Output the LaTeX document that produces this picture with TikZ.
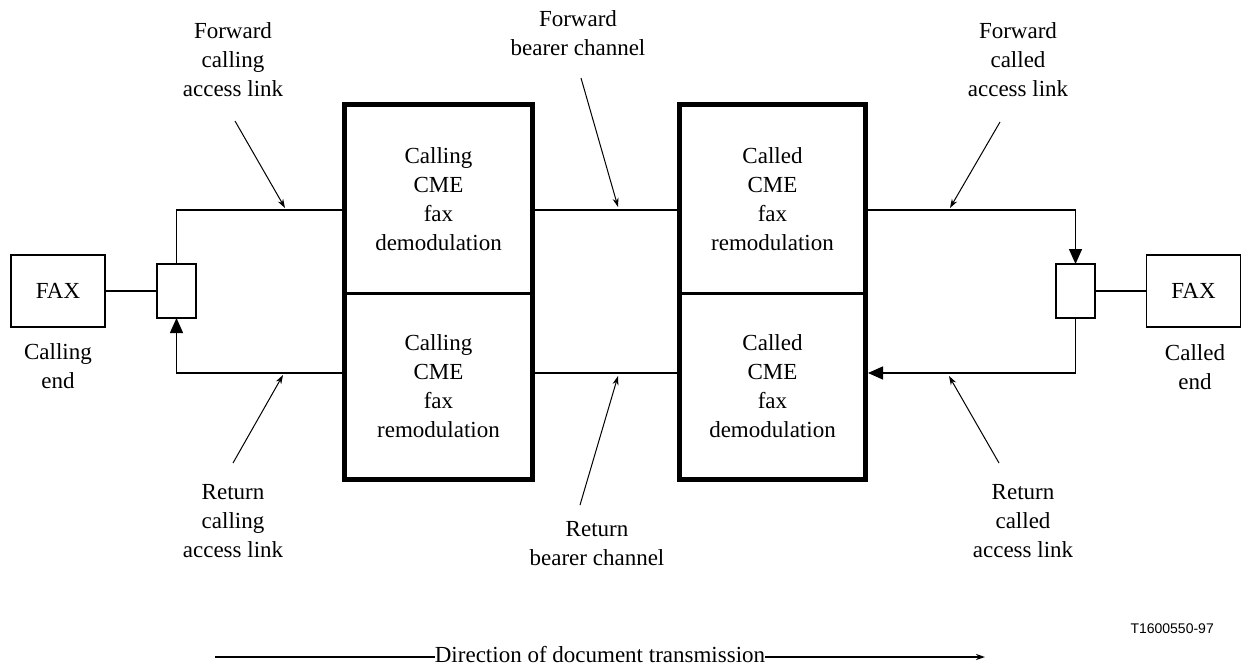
\documentclass[tikz,border=0pt]{standalone}
\usepackage{fontspec}
\setmainfont{Liberation Serif}
\newfontfamily\labelsans{Liberation Sans}
\usetikzlibrary{arrows.meta,calc}
\begin{document}
\begin{tikzpicture}[x=1pt,y=-1pt,
  txt/.style={align=center,inner sep=0pt,font=\fontsize{23}{29}\selectfont},
  faxbox/.style={draw,line width=1.5pt,minimum width=94pt,minimum height=72pt,inner sep=0pt,outer sep=0pt,font=\fontsize{23}{29}\selectfont},
  hybrid/.style={draw,line width=1.5pt,minimum width=39pt,minimum height=54pt,inner sep=0pt,outer sep=0pt},
  halfbox/.style={draw,line width=3pt,minimum width=188pt,inner sep=0pt,outer sep=0pt,align=center,font=\fontsize{23}{29}\selectfont},
  frame/.style={line width=5pt},
  link/.style={line width=1.4pt},
  tap/.style={line width=2.5pt},
  note/.style={line width=1pt,-{Stealth[length=9pt,width=6pt]}},
  bigtip/.style={-{Triangle[length=15pt,width=13pt]}}
]
\useasboundingbox (0,0) rectangle (1242,669);

% level coordinates
\coordinate (fwd) at (0,210);
\coordinate (ret) at (0,373);

% end equipment
\node[faxbox] (faxL) at (58,291) {FAX};
\node[hybrid] (sbL) at (176.5,291) {};
\node[faxbox] (faxR) at (1193.5,291) {FAX};
\node[hybrid] (sbR) at (1075.5,291) {};
\node[txt] (cend) at (58,366) {Calling\\end};
\node[txt] (dend) at (1195,367) {Called\\end};

% CME boxes
\node[halfbox,minimum height=188.5pt] (cU) at (438.5,198.75) {Calling\\CME\\fax\\demodulation};
\node[halfbox,minimum height=186.5pt] (cL) at (438.5,386.25) {Calling\\CME\\fax\\remodulation};
\draw[frame] (cU.north west) rectangle (cL.south east);
\node[halfbox,minimum height=188.5pt,minimum width=186pt] (dU) at (772.5,198.75) {Called\\CME\\fax\\remodulation};
\node[halfbox,minimum height=186.5pt,minimum width=186pt] (dL) at (772.5,386.25) {Called\\CME\\fax\\demodulation};
\draw[frame] (dU.north west) rectangle (dL.south east);

% connections
\draw[tap] (faxL.east) -- (sbL.west);
\draw[tap] (sbR.east) -- (faxR.west);
\draw[link] (sbL.north) |- (cU.west |- fwd);
\draw[link,bigtip] (cL.west |- ret) -| (sbL.south);
\draw[link] (cU.east |- fwd) -- (dU.west |- fwd);
\draw[link] (cL.east |- ret) -- (dL.west |- ret);
\draw[link,bigtip] (dU.east |- fwd) -| (sbR.north);
\draw[link,bigtip] (sbR.south) |- ([xshift=2.5pt]dL.east |- ret);

% annotation labels
\node[txt] (fca) at (233,60) {Forward\\calling\\access link};
\node[txt] (fbc) at (578,33) {Forward\\bearer channel};
\node[txt] (fcd) at (1018,60) {Forward\\called\\access link};
\node[txt] (rca) at (233,521) {Return\\calling\\access link};
\node[txt] (rbc) at (597,544) {Return\\bearer channel};
\node[txt] (rcd) at (1023,521) {Return\\called\\access link};

\coordinate (fcaS) at (235,121); \coordinate (fcaT) at (285,208);
\coordinate (fbcS) at (581,78);  \coordinate (fbcT) at (618,207);
\coordinate (fcdS) at (1000,122); \coordinate (fcdT) at (950,208);
\coordinate (rcaS) at (233,463); \coordinate (rcaT) at (283,375);
\coordinate (rbcS) at (580,505); \coordinate (rbcT) at (618,376);
\coordinate (rcdS) at (999,463); \coordinate (rcdT) at (949,376);
\draw[note] (fcaS) -- (fcaT);
\draw[note] (fbcS) -- (fbcT);
\draw[note] (fcdS) -- (fcdT);
\draw[note] (rcaS) -- (rcaT);
\draw[note] (rbcS) -- (rbcT);
\draw[note] (rcdS) -- (rcdT);

% tag and direction
\node[anchor=east,inner sep=0pt,font=\labelsans\fontsize{14}{16}\selectfont] (tag) at (1214,629) {T1600550-97};
\coordinate (dirS) at (215,657);
\coordinate (dirE) at (985,657);
\node[txt] (dir) at (600,655) {Direction of document transmission};
\draw[line width=1.4pt] (dirS) -- (dir.west |- dirS);
\draw[line width=1.4pt,-{Stealth[length=9pt,width=6pt]}] (dir.east |- dirE) -- (dirE);
\end{tikzpicture}
\end{document}
